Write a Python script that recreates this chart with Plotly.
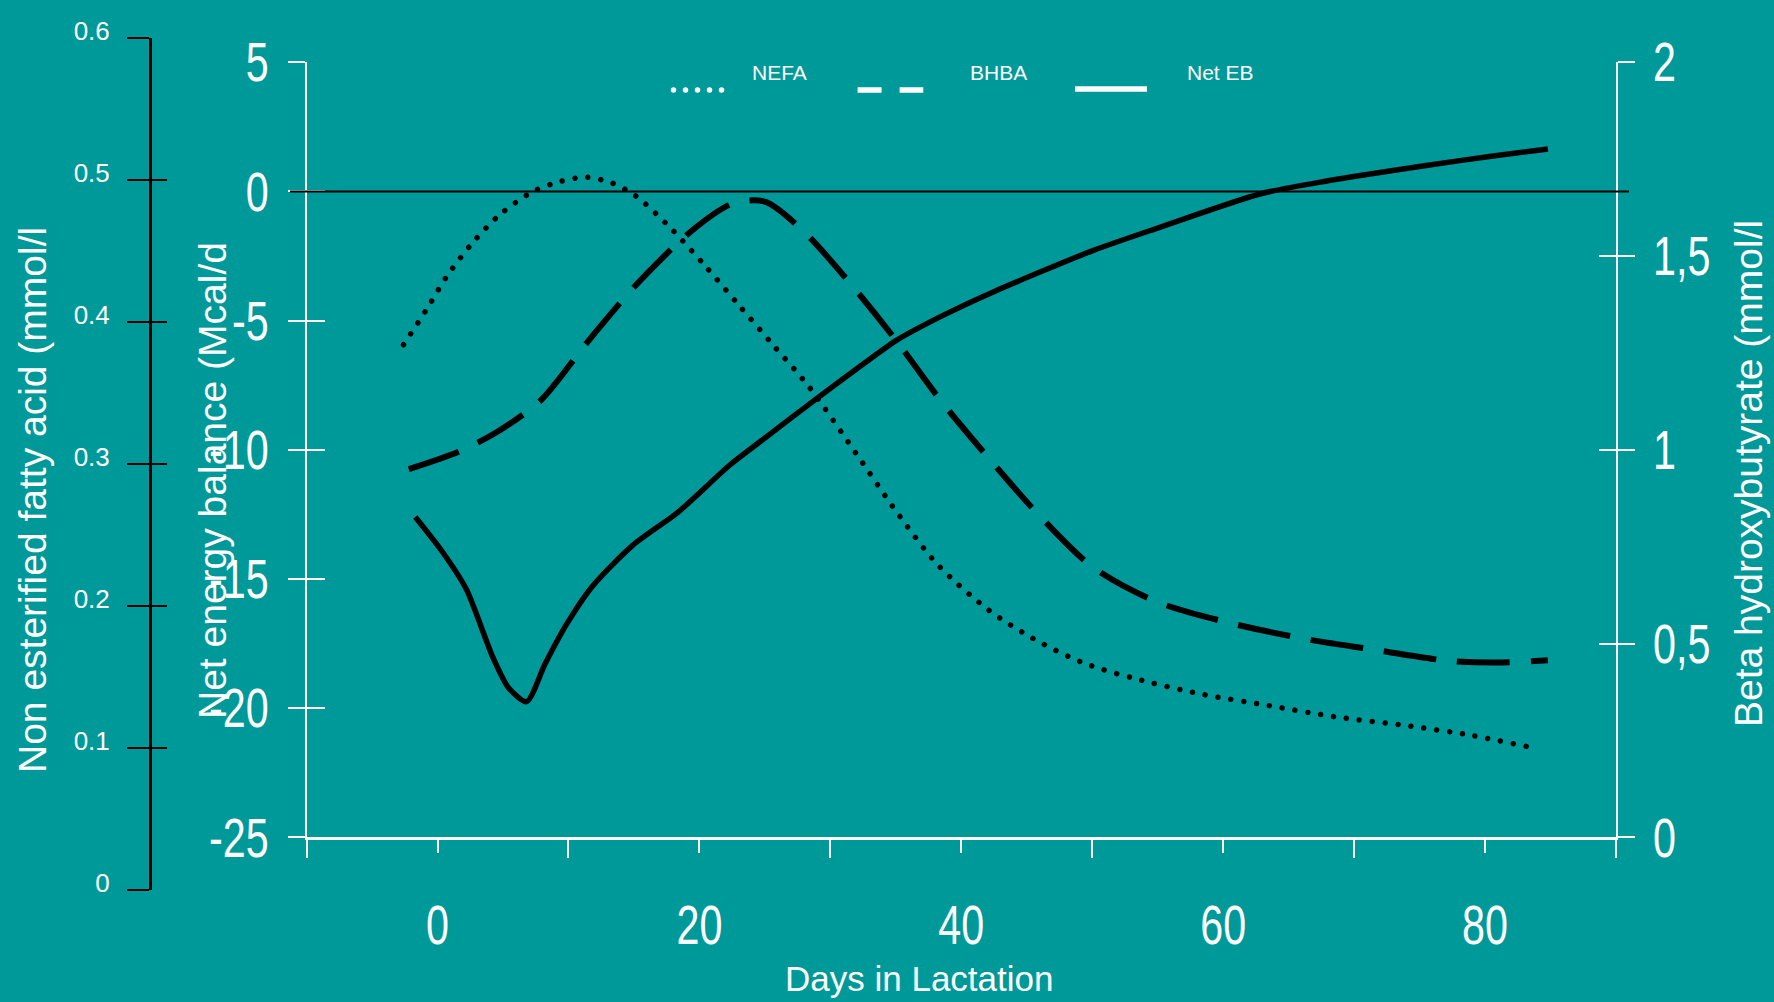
import plotly.graph_objects as go

# Net energy balance (Mcal/d) by days in lactation
eb_days = [-1.7, 0.3, 2.2, 4.2, 5.4, 6.8, 8.2, 9.8, 11.8, 14.9, 18.4, 22.3, 24.6,
           29.0, 32.2, 35.1, 38.6, 42.4, 50.0, 55.1, 62.8, 67.9, 75.5, 80.6, 84.8]
eb_mcal = [-12.6, -13.9, -15.4, -18.0, -19.2, -19.75, -18.3, -16.8, -15.3, -13.7,
           -12.4, -10.6, -9.7, -8.0, -6.8, -5.75, -4.8, -3.9, -2.3, -1.4, -0.1, 0.4,
           1.0, 1.37, 1.64]

# Beta hydroxybutyrate (mmol/l)
bhba_days = [-2.2, 1.6, 4.5, 7.9, 11.4, 15.1, 19.3, 22.5, 25.0, 28.0, 31.4, 35.0,
             38.4, 42.1, 45.8, 50.0, 54.9, 60.5, 66.1, 71.7, 77.3, 81.0, 84.8]
bhba_mmol = [0.95, 0.995, 1.045, 1.128, 1.276, 1.423, 1.562, 1.635, 1.64, 1.562,
             1.434, 1.283, 1.128, 0.978, 0.836, 0.698, 0.608, 0.553, 0.513, 0.483,
             0.455, 0.451, 0.457]

# Non esterified fatty acids (mmol/l)
nefa_days = [-2.6, -0.9, 0.7, 2.6, 4.8, 7.3, 9.4, 11.3, 13.3, 15.1, 17.5, 20.3, 23.0,
             25.7, 28.4, 32.0, 35.0, 38.2, 42.1, 45.5, 49.3, 53.2, 58.3, 63.4, 68.5,
             73.8, 78.9, 83.2]
nefa_mmol = [0.384, 0.408, 0.432, 0.455, 0.476, 0.492, 0.499, 0.502, 0.498, 0.489,
             0.469, 0.441, 0.412, 0.383, 0.354, 0.307, 0.267, 0.229, 0.197, 0.177,
             0.160, 0.149, 0.138, 0.130, 0.122, 0.116, 0.109, 0.101]

# Tick values and labels
x_ticks = [0, 20, 40, 60, 80]
x_ticktext = ["0", "20", "40", "60", "80"]
x_minor_ticks = [-10, 10, 30, 50, 70, 90]
eb_ticks = [-25, -20, -15, -10, -5, 0, 5]
eb_ticktext = ["-25", "-20", "-15", "-10", "-5", "0", "5"]
bhba_ticks = [0, 0.5, 1, 1.5, 2]
bhba_ticktext = ["0", "0,5", "1", "1,5", "2"]
nefa_ticks = [0, 0.1, 0.2, 0.3, 0.4, 0.5, 0.6]
nefa_ticktext = ["0", "0.1", "0.2", "0.3", "0.4", "0.5", "0.6"]

legend_names = ["NEFA", "BHBA", "Net EB"]

# Page geometry
W, H = 1774, 1002
ML, MR, MT, MB = 150, 158, 38, 112
PW, PH = W - ML - MR, H - MT - MB


def px(x):
    return (x - ML) / PW


def py(y):
    return (H - MB - y) / PH


BG = "#009999"
WHITE = "white"
SANS = "Liberation Sans, Arial, sans-serif"

x_domain = [px(306.6), 1.0]
y_domain = [py(837.3), py(62.2)]

fig = go.Figure()

fig.add_trace(go.Scatter(
    x=nefa_days, y=nefa_mmol, xaxis="x", yaxis="y3", mode="lines", name="NEFA",
    line=dict(color="black", width=5.5, dash="5px,8px", shape="spline", smoothing=0.8),
))
fig.add_trace(go.Scatter(
    x=bhba_days, y=bhba_mmol, xaxis="x", yaxis="y2", mode="lines", name="BHBA",
    line=dict(color="black", width=6, dash="53px,21px", shape="spline", smoothing=0.8),
))
fig.add_trace(go.Scatter(
    x=eb_days, y=eb_mcal, xaxis="x", yaxis="y", mode="lines", name="Net EB",
    line=dict(color="black", width=5.5, shape="spline", smoothing=0.7),
))
# empty carriers so the inner tick axes get drawn
for ax in ["y4", "y5", "y6"]:
    fig.add_trace(go.Scatter(x=[None], y=[None], xaxis="x", yaxis=ax, mode="lines",
                             hoverinfo="skip", showlegend=False))

common = dict(showgrid=False, zeroline=False, fixedrange=True)
big_font = dict(family=SANS, size=55, color=WHITE)

fig.update_layout(
    width=W, height=H, autosize=False,
    paper_bgcolor=BG, plot_bgcolor="rgba(0,0,0,0)",
    margin=dict(l=ML, r=MR, t=MT, b=MB, pad=0, autoexpand=False),
    showlegend=False,
    xaxis=dict(
        domain=x_domain, range=[-10, 90], anchor="y",
        tickvals=x_ticks, ticktext=x_ticktext,
        ticks="outside", ticklen=13, tickwidth=2, tickcolor=WHITE,
        minor=dict(tickvals=x_minor_ticks, ticks="outside", ticklen=18,
                   tickwidth=2, tickcolor=WHITE, showgrid=False),
        showline=True, linecolor=WHITE, linewidth=2.5,
        tickfont=big_font, ticklabelstandoff=25, **common,
    ),
    yaxis=dict(
        domain=y_domain, range=[-25, 5], anchor="x", side="left",
        tickvals=eb_ticks, ticktext=eb_ticktext,
        ticks="outside", ticklen=17, tickwidth=2, tickcolor=WHITE,
        showline=True, linecolor=WHITE, linewidth=2,
        tickfont=big_font, ticklabelstandoff=8, **common,
    ),
    yaxis2=dict(
        overlaying="y", anchor="x", side="right", range=[0, 2],
        tickvals=bhba_ticks, ticktext=bhba_ticktext,
        ticks="outside", ticklen=17, tickwidth=2, tickcolor=WHITE,
        showline=True, linecolor=WHITE, linewidth=2,
        tickfont=big_font, ticklabelstandoff=7, **common,
    ),
    yaxis3=dict(
        domain=[0, 1], anchor="free", position=0, side="left", range=[0, 0.6],
        tickvals=nefa_ticks, ticktext=nefa_ticktext,
        ticks="outside", ticklen=22, tickwidth=2, tickcolor="black",
        showline=True, linecolor="black", linewidth=3,
        tickfont=dict(family=SANS, size=26, color=WHITE),
        ticklabelstandoff=12, ticklabelshift=-7, **common,
    ),
    # inner halves of the crossing tick marks
    yaxis4=dict(
        overlaying="y", anchor="x", side="left", range=[-25, 5],
        tickvals=eb_ticks, ticks="inside", ticklen=18, tickwidth=2, tickcolor=WHITE,
        showticklabels=False, showline=False, **common,
    ),
    yaxis5=dict(
        overlaying="y", anchor="x", side="right", range=[0, 2],
        tickvals=bhba_ticks, ticks="inside", ticklen=17, tickwidth=2, tickcolor=WHITE,
        showticklabels=False, showline=False, **common,
    ),
    yaxis6=dict(
        overlaying="y3", anchor="free", position=0, side="left", range=[0, 0.6],
        tickvals=nefa_ticks, ticks="inside", ticklen=16, tickwidth=2, tickcolor="black",
        showticklabels=False, showline=False, **common,
    ),
)

shapes = [
    # zero energy balance reference line
    dict(type="line", xref="paper", yref="y", x0=px(290), x1=px(1629), y0=0, y1=0,
         line=dict(color="black", width=2), layer="above"),
    # legend keys
    dict(type="line", xref="paper", yref="paper", x0=px(673.5), x1=px(727),
         y0=py(90), y1=py(90), line=dict(color=WHITE, width=5.5, dash="5px,7px")),
    dict(type="line", xref="paper", yref="paper", x0=px(857.6), x1=px(923.3),
         y0=py(90), y1=py(90), line=dict(color=WHITE, width=5.5, dash="24px,18px")),
    dict(type="line", xref="paper", yref="paper", x0=px(1075), x1=px(1147),
         y0=py(89), y1=py(89), line=dict(color=WHITE, width=5.5)),
]
fig.update_layout(shapes=shapes)

annotations = []
for name, x_left in zip(legend_names, [750, 968, 1185]):
    annotations.append(dict(
        text=name, xref="paper", yref="paper", x=px(x_left), y=py(72),
        xanchor="left", yanchor="middle", showarrow=False,
        font=dict(family=SANS, size=21, color=WHITE)))

titles = [
    ("Non esterified fatty acid (mmol/l", 33, 500),
    ("Net energy balance (Mcal/d", 212, 481),
    ("Beta hydroxybutyrate (mmol/l", 1748, 474),
]
for text, xc, yc in titles:
    annotations.append(dict(
        text=text, xref="paper", yref="paper", x=px(xc), y=py(yc),
        xanchor="center", yanchor="middle", textangle=-90, showarrow=False,
        font=dict(family=SANS, size=39, color=WHITE)))

annotations.append(dict(
    text="Days in Lactation", xref="paper", yref="paper", x=px(919), y=py(979),
    xanchor="center", yanchor="middle", showarrow=False,
    font=dict(family=SANS, size=35, color=WHITE)))

fig.update_layout(annotations=annotations)

# Condensed numerals on the main axes, and round dots for the dotted strokes
post_js = """
var gd = document.getElementById('{plot_id}');
function condense() {
  gd.querySelectorAll('g.xtick > text, g.ytick > text, g.y2tick > text').forEach(function (t) {
    var tr = t.getAttribute('transform') || '';
    if (tr.indexOf('scale(') >= 0) return;
    var ax = parseFloat(t.getAttribute('x')) || 0;
    t.setAttribute('transform', tr + ' translate(' + ax + ',0) scale(0.75,1) translate(' + (-ax) + ',0)');
  });
  gd.querySelectorAll('path').forEach(function (p) {
    var d = p.style.strokeDasharray;
    if (d && d.indexOf('5px') === 0 && p.style.strokeLinecap !== 'round') {
      var parts = d.split(',').map(parseFloat);
      p.style.strokeDasharray = '0.01px,' + (parts[0] + parts[1]) + 'px';
      p.style.strokeLinecap = 'round';
    }
  });
}
condense();
if (gd.on) { gd.on('plotly_afterplot', condense); }
"""

fig.write_html("out.html", config={"displayModeBar": False}, post_script=post_js)
